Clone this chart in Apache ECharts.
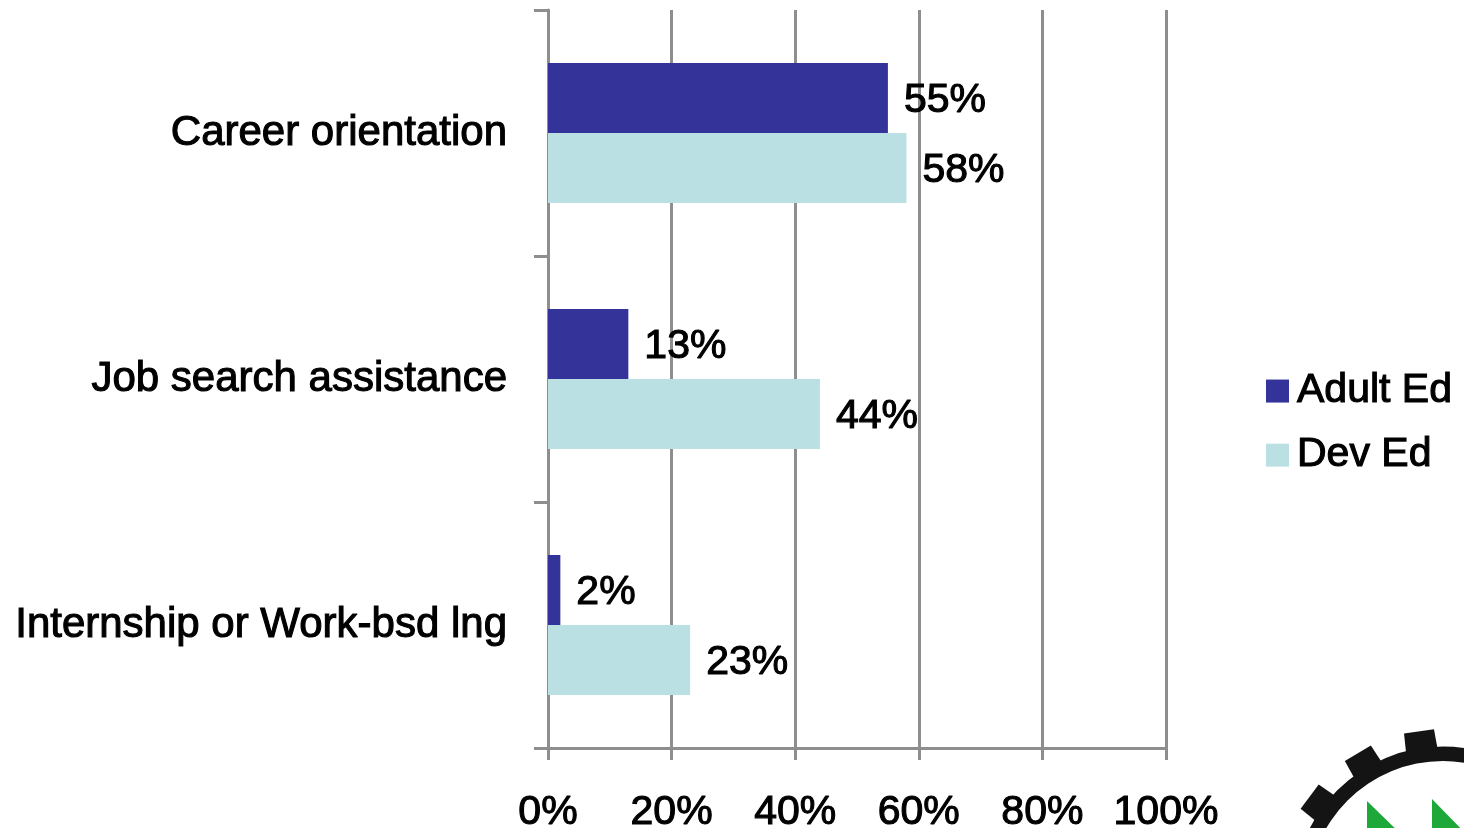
<!DOCTYPE html>
<html>
<head>
<meta charset="utf-8">
<script src="https://cdn.jsdelivr.net/npm/echarts@6/dist/echarts.min.js"></script>
<style>
html,body{margin:0;padding:0;background:#fff;}
#chart{width:1464px;height:828px;}
</style>
</head>
<body>
<div id="chart"></div>
<script>
const categories = ['Career orientation', 'Job search assistance', 'Internship or Work-bsd lng'];
const seriesNames = ['Adult Ed', 'Dev Ed'];
const adultEd = [55, 13, 2];
const devEd = [58, 44, 23];
const xTicks = [0, 20, 40, 60, 80, 100];

const FONT = '"Liberation Sans", Arial, sans-serif';
const GRAY = '#8e8e8e';
const TXT = { fontFamily: FONT, fontSize: 41, color: '#000', textBorderColor: '#000', textBorderWidth: 1.1 };

// decorative logo (gear + green triangles), partially off-canvas
function gearGraphics() {
  const cx = 1443, cy = 896, r0 = 135, r1 = 149, rT = 167;
  const els = [{
    type: 'ring', shape: { cx: cx, cy: cy, r: r1 + 0.5, r0: r0 }, style: { fill: '#141414' }
  }];
  const step = 22.5 * Math.PI / 180;
  const half = 6.2 * Math.PI / 180;
  const halfTop = 5.2 * Math.PI / 180;
  const base = -Math.PI / 2 - 8.3 * Math.PI / 180;
  for (let k = -4; k <= 6; k++) {
    const a = base - k * step;
    const pts = [
      [cx + (r1 - 2) * Math.cos(a - half), cy + (r1 - 2) * Math.sin(a - half)],
      [cx + rT * Math.cos(a - halfTop), cy + rT * Math.sin(a - halfTop)],
      [cx + rT * Math.cos(a + halfTop), cy + rT * Math.sin(a + halfTop)],
      [cx + (r1 - 2) * Math.cos(a + half), cy + (r1 - 2) * Math.sin(a + half)]
    ];
    els.push({ type: 'polygon', shape: { points: pts }, style: { fill: '#141414' } });
  }
  els.push({ type: 'polygon', shape: { points: [[1367, 801], [1367, 840], [1407, 840]] }, style: { fill: '#1fa83a' } });
  els.push({ type: 'polygon', shape: { points: [[1432, 799], [1432, 840], [1472, 840]] }, style: { fill: '#1fa83a' } });
  return els;
}

const chart = echarts.init(document.getElementById('chart'));
const labelStyle = Object.assign({
  show: true, position: 'right', distance: 16, offset: [0, 3],
  formatter: p => p.value + '%'
}, TXT);
chart.setOption({
  animation: false,
  backgroundColor: '#fff',
  grid: { left: 548, right: 298, top: 10, bottom: 80, containLabel: false, outerBoundsMode: 'none' },
  legend: {
    orient: 'vertical', left: 1266, top: 370, padding: 0,
    itemWidth: 23, itemHeight: 23, itemGap: 22,
    icon: 'rect',
    textStyle: Object.assign({ padding: [0, 0, 0, 3] }, TXT),
    data: seriesNames
  },
  xAxis: {
    type: 'value', min: xTicks[0], max: xTicks[xTicks.length - 1], interval: 20,
    axisLine: { show: true, lineStyle: { color: GRAY, width: 3 } },
    axisTick: { show: true, length: 12, lineStyle: { color: GRAY, width: 3 } },
    splitLine: { show: true, lineStyle: { color: GRAY, width: 3 } },
    axisLabel: Object.assign({ formatter: '{value}%', margin: 44 }, TXT)
  },
  yAxis: {
    type: 'category', data: categories, inverse: true,
    axisLine: { show: true, lineStyle: { color: GRAY, width: 3 } },
    axisTick: { show: true, length: 14, lineStyle: { color: GRAY, width: 3 } },
    axisLabel: Object.assign({}, TXT, { fontSize: 42, margin: 41, padding: [10, 0, 0, 0] })
  },
  series: [
    { name: seriesNames[0], type: 'bar', data: adultEd, barGap: '0%', barCategoryGap: '43%',
      itemStyle: { color: '#343399' }, label: labelStyle },
    { name: seriesNames[1], type: 'bar', data: devEd, barGap: '0%', barCategoryGap: '43%',
      itemStyle: { color: '#bbe0e3' }, label: labelStyle }
  ],
  graphic: gearGraphics()
});
</script>
</body>
</html>
